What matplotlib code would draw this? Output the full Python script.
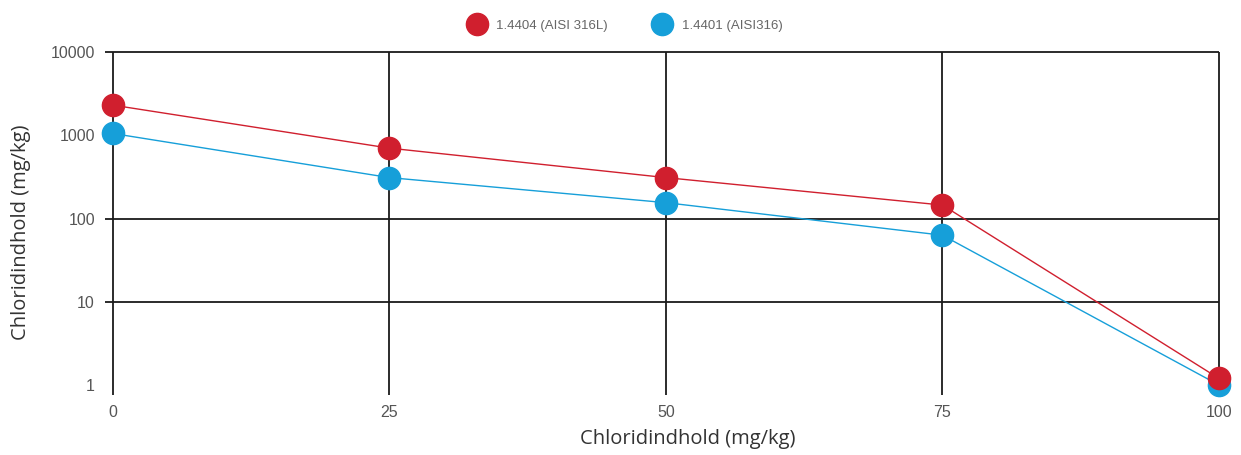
# Chloride content chart - 1.4404 vs 1.4401

import numpy as np
import matplotlib.pyplot as plt

# data
x_vals = [0, 25, 50, 75, 100]
red_vals = [2300, 700, 310, 145, 1.2]
blue_vals = [1050, 310, 155, 63, 1.0]
red_label = '1.4404 (AISI 316L)'
blue_label = '1.4401 (AISI316)'
y_ticks = [1, 10, 100, 1000, 10000]
grid_rows = [10, 100, 10000]

red = '#d01f2e'
blue = '#169fd9'
grey = '#555555'

fig = plt.figure(figsize=(12.41, 4.55), dpi=100)
ax = fig.add_axes([0.091, 0.132, 0.8912, 0.7537])
ax.set_yscale('log')
ax.set_ylim(0.76, 10000)
ax.set_xlim(0, 100)

# grid lines drawn by hand (only some rows have them)
ax.hlines(grid_rows, -0.75, 100, color='#1a1a1a', lw=1.3, clip_on=False, zorder=1)
ax.vlines(x_vals, 0.76, 10000, color='#1a1a1a', lw=1.3, clip_on=False, zorder=1)

ax.plot(x_vals, red_vals, color=red, lw=1, marker='o', ms=16, mec=red, label=red_label,
        clip_on=False, zorder=4)
ax.plot(x_vals, blue_vals, color=blue, lw=1, marker='o', ms=16, mec=blue, label=blue_label,
        clip_on=False, zorder=3)

for s in ax.spines.values():
    s.set_visible(False)
ax.set_yticks(y_ticks)
ax.set_yticklabels([str(v) for v in y_ticks], family='Liberation Sans')
ax.yaxis.set_minor_locator(plt.NullLocator())
ax.set_xticks(x_vals)
ax.set_xticklabels([str(v) for v in x_vals], family='Liberation Sans')
ax.tick_params(length=0, colors=grey, labelsize=11.5)
ax.tick_params(axis='y', pad=13)
ax.tick_params(axis='x', pad=7)

ax.set_xlabel('Chloridindhold (mg/kg)', fontsize=14.5, color='#333333', family='Open Sans')
ax.set_ylabel('Chloridindhold (mg/kg)', fontsize=14.5, color='#333333', family='Open Sans')
ax.xaxis.set_label_coords(0.52, -0.1)
ax.yaxis.set_label_coords(-0.074, 0.475)

leg = fig.legend(handles=ax.get_lines(), loc='center', bbox_to_anchor=(0.505, 0.943), ncol=2,
                 frameon=False, prop={'family': 'Liberation Sans', 'size': 9.5},
                 handlelength=0.9, handletextpad=1.0,
                 columnspacing=3.7, labelcolor='#666666', markerscale=1.0)
for h in leg.legend_handles:
    h.set_linestyle('none')

plt.savefig('out.png', dpi=100)
